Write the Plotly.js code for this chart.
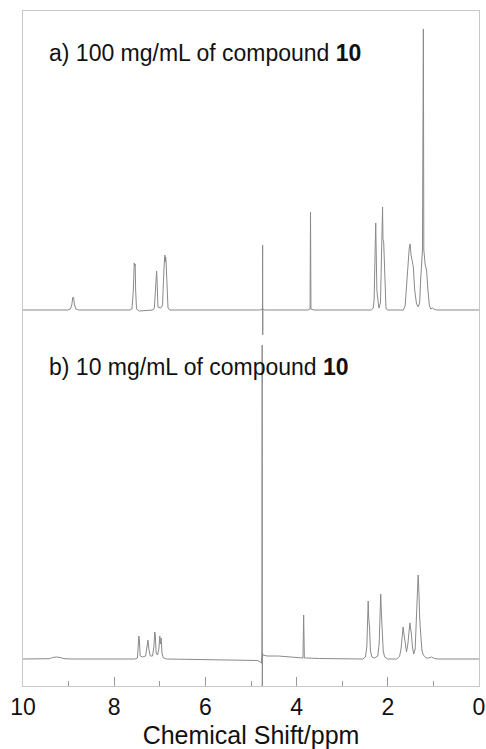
<!DOCTYPE html>
<html>
<head>
<meta charset="utf-8">
<script src="https://cdn.plot.ly/plotly-3.0.1.min.js"></script>
<style>html,body{margin:0;padding:0;background:#fff;}#chart{width:486px;height:749px;}</style>
</head>
<body>
<div id="chart"></div>
<script>
// Spectrum a) 100 mg/mL — vertices (ppm, intensity above baseline)
var shiftA = [10.0, 9.02, 8.96, 8.93, 8.91, 8.90, 8.89, 8.87, 8.84, 8.78,
  7.66, 7.61, 7.58, 7.57, 7.56, 7.55, 7.54, 7.53, 7.51, 7.45,
  7.15, 7.12, 7.10, 7.09, 7.08, 7.07, 7.06, 7.04, 6.98, 6.94, 6.91, 6.90, 6.89, 6.88, 6.87, 6.86, 6.84, 6.82, 6.78,
  4.80, 4.747, 4.745, 4.743, 4.741, 4.70,
  3.75, 3.705, 3.695, 3.685, 3.62,
  2.36, 2.32, 2.30, 2.28, 2.275, 2.265, 2.255, 2.24, 2.20, 2.19, 2.16, 2.13, 2.115, 2.105, 2.09, 2.08, 2.06, 2.04, 2.01,
  1.66, 1.62, 1.59, 1.56, 1.53, 1.51, 1.49, 1.46, 1.44, 1.41, 1.37, 1.33,
  1.30, 1.28, 1.26, 1.24, 1.22, 1.21, 1.18, 1.15, 1.12, 1.09, 1.06, 1.02, 0.99, 0.93, 0.0];
var intensityA = [0, 0, 1, 5, 12, 13, 12, 5, 1, 0,
  0, 1, 20, 44, 47, 44, 46, 20, 1, -1,
  0, 2, 20, 22, 30, 39, 30, 3, 2, 5, 40, 52, 55, 48, 53, 46, 10, 2, 0,
  0, 1, 65, -25, 1, 0,
  0, 1, 98, 1, 0,
  0, 2, 10, 50, 80, 87, 60, 20, 3, 2, 8, 60, 103, 70, 68, 55, 15, 2, 0,
  0, 4, 25, 50, 62, 66, 55, 48, 43, 20, 6, 3,
  8, 30, 45, 60, 281, 60, 45, 40, 20, 5, 1, 2, 1, 0, 0];

// Spectrum b) 10 mg/mL
var shiftB = [10.0, 9.6, 9.42, 9.35, 9.27, 9.18, 9.10, 8.9,
  7.55, 7.49, 7.47, 7.46, 7.45, 7.43, 7.38, 7.31, 7.28, 7.26, 7.24, 7.21, 7.16, 7.13, 7.11, 7.10, 7.08, 7.05, 7.02, 7.00, 6.99, 6.97, 6.95, 6.92, 6.85,
  6.0, 5.2, 4.85, 4.80, 4.77, 4.76, 4.755, 4.752, 4.748, 4.74, 4.65, 4.4, 4.1, 3.9,
  3.86, 3.845, 3.83, 3.78, 3.5,
  2.55, 2.49, 2.46, 2.44, 2.43, 2.42, 2.40, 2.38, 2.35, 2.29, 2.22, 2.19, 2.17, 2.155, 2.14, 2.12, 2.10, 2.07, 2.0,
  1.80, 1.74, 1.71, 1.68, 1.665, 1.645, 1.62, 1.59, 1.56, 1.53, 1.515, 1.50, 1.485, 1.46, 1.43,
  1.40, 1.38, 1.355, 1.335, 1.32, 1.30, 1.27, 1.25, 1.22, 1.16, 1.10, 1.04, 0.98, 0.9, 0.0];
var intensityB = [0, 0, 0.3, 1.5, 2, 1.5, 0.3, 0,
  0, 1, 15, 23, 20, 3, 2, 3, 12, 19, 10, 3, 3, 12, 27, 25, 6, 4, 10, 23, 15, 21, 5, 1, 0,
  -0.5, -1, -1.5, -3, -4, 8, 314, -40, 6, 4, 3, 3, 2, 1,
  1, 44, 1, 1, 0.5,
  0, 2, 12, 45, 58, 42, 31, 8, 2, 1, 3, 15, 50, 65, 45, 30, 8, 2, 0,
  0, 3, 10, 25, 32, 25, 16, 7, 15, 30, 36, 30, 27, 12, 5,
  10, 32, 65, 84, 70, 40, 20, 8, 4, 1, 1, 2, 0.5, 0, 0];

var offsetA = 376;   // baseline of spectrum a) on the shared intensity scale
var offsetB = 27;    // baseline of spectrum b)

var labelA = 'a) 100 mg/mL of compound <b>10</b>';
var labelB = 'b) 10 mg/mL of compound <b>10</b>';
var xTitle = 'Chemical Shift/ppm';

var FONT = 'Liberation Sans, Arial, Helvetica, sans-serif';
var lineStyle = {color: '#8a8a8a', width: 1};

var traces = [
  {x: shiftA, y: intensityA.map(function(v){return v + offsetA;}), type: 'scatter', mode: 'lines', line: lineStyle, hoverinfo: 'skip'},
  {x: shiftB, y: intensityB.map(function(v){return v + offsetB;}), type: 'scatter', mode: 'lines', line: lineStyle, hoverinfo: 'skip'}
];

var layout = {
  width: 486, height: 749,
  margin: {l: 23, r: 7, t: 11, b: 63, pad: 0},
  paper_bgcolor: '#fff', plot_bgcolor: '#fff',
  showlegend: false,
  font: {family: FONT, color: '#111'},
  xaxis: {
    range: [10, 0], tick0: 0, dtick: 2,
    ticks: 'inside', ticklen: 9, tickwidth: 1, tickcolor: '#999',
    minor: {dtick: 1, ticks: 'inside', ticklen: 5, tickwidth: 1, tickcolor: '#999'},
    showline: true, mirror: true, linecolor: '#c8c8c8', linewidth: 1,
    showgrid: false, zeroline: false,
    tickfont: {family: FONT, size: 23, color: '#111'},
    title: {text: xTitle, font: {family: FONT, size: 25, color: '#111'}, standoff: 8}
  },
  yaxis: {
    range: [0, 675], showticklabels: false, ticks: '',
    showline: true, mirror: true, linecolor: '#c8c8c8', linewidth: 1,
    showgrid: false, zeroline: false
  },
  annotations: [
    {text: labelA, xref: 'paper', yref: 'paper', x: 0.0526, y: 0.938, xanchor: 'left', yanchor: 'middle', showarrow: false, font: {family: FONT, size: 23, color: '#111'}},
    {text: labelB, xref: 'paper', yref: 'paper', x: 0.0526, y: 0.4726, xanchor: 'left', yanchor: 'middle', showarrow: false, font: {family: FONT, size: 23, color: '#111'}}
  ]
};

Plotly.newPlot('chart', traces, layout, {staticPlot: true, displayModeBar: false});
</script>
</body>
</html>
